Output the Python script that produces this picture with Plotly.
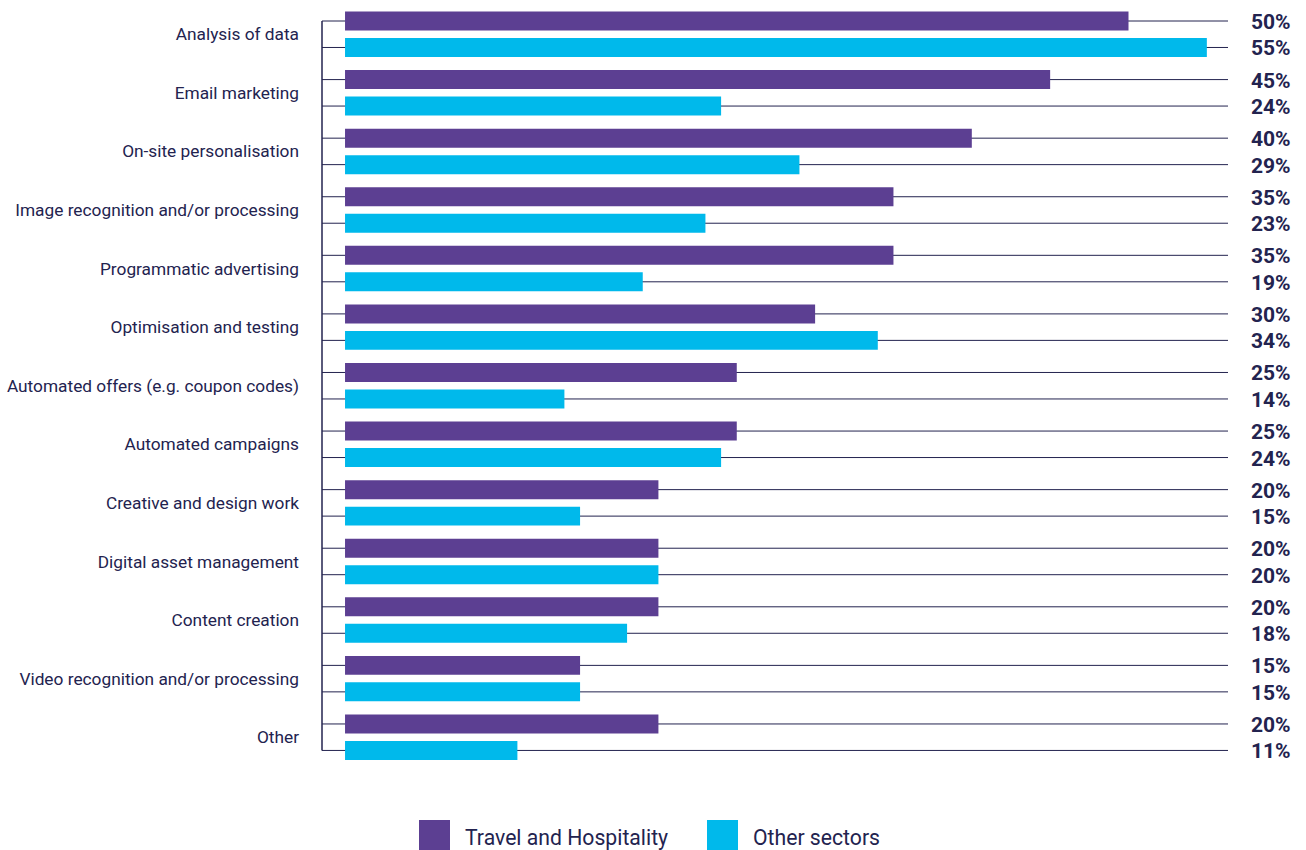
import plotly.graph_objects as go

categories = [
    "Analysis of data", "Email marketing", "On-site personalisation",
    "Image recognition and/or processing", "Programmatic advertising",
    "Optimisation and testing", "Automated offers (e.g. coupon codes)",
    "Automated campaigns", "Creative and design work", "Digital asset management",
    "Content creation", "Video recognition and/or processing", "Other",
]
travel = [50, 45, 40, 35, 35, 30, 25, 25, 20, 20, 20, 15, 20]
other = [55, 24, 29, 23, 19, 34, 14, 24, 15, 20, 18, 15, 11]
series_names = ["Travel and Hospitality", "Other sectors"]

PURPLE = "#5c3f92"
CYAN = "#00b9eb"
NAVY = "#23234f"
FONT = "Roboto"

W, H = 1306, 850
ML, MR, MT, MB = 322, 78, 0, 80
PW = W - ML - MR
PH = H - MT - MB

OFF = 0.226
BW = 0.324
idx = list(range(len(categories)))
y_tr = [i - OFF for i in idx]
y_ot = [i + OFF for i in idx]

fig = go.Figure()
fig.add_trace(go.Bar(x=travel, y=y_tr, orientation="h", width=BW,
                     marker=dict(color=PURPLE, line=dict(width=0)),
                     name=series_names[0], showlegend=False, hoverinfo="x"))
fig.add_trace(go.Bar(x=other, y=y_ot, orientation="h", width=BW,
                     marker=dict(color=CYAN, line=dict(width=0)),
                     name=series_names[1], showlegend=False, hoverinfo="x"))

shapes = []
annotations = []
for yv, val in list(zip(y_tr, travel)) + list(zip(y_ot, other)):
    shapes.append(dict(type="line", xref="paper", yref="y", x0=0, x1=1, y0=yv, y1=yv,
                       line=dict(color=NAVY, width=1), layer="below"))
    annotations.append(dict(xref="paper", yref="y", x=1, y=yv, xanchor="left",
                            yanchor="middle", xshift=21, yshift=-1, text=f"<b>{val}%</b>",
                            showarrow=False, font=dict(family=FONT, size=21, color=NAVY)))
shapes.append(dict(type="line", xref="paper", yref="y", x0=0, x1=0,
                   y0=y_tr[0], y1=y_ot[-1], line=dict(color=NAVY, width=1.5), layer="below"))

def px_x(p):
    return (p - ML) / PW

def px_y(p):
    return (H - MB - p) / PH

# custom legend
leg = [(419, 463, PURPLE, series_names[0]), (707, 751, CYAN, series_names[1])]
for sx, tx, col, name in leg:
    shapes.append(dict(type="rect", xref="paper", yref="paper",
                       x0=px_x(sx), x1=px_x(sx + 31), y0=px_y(850), y1=px_y(820),
                       fillcolor=col, line=dict(width=0)))
    annotations.append(dict(xref="paper", yref="paper", x=px_x(tx), y=px_y(837),
                            xanchor="left", yanchor="middle", text=name, showarrow=False,
                            font=dict(family=FONT, size=21.2, color=NAVY)))

r0 = -OFF - 21 / 58.58
r1 = r0 + PH / 58.58

fig.update_layout(
    width=W, height=H,
    margin=dict(l=ML, r=MR, t=MT, b=MB, pad=0),
    paper_bgcolor="white", plot_bgcolor="white",
    barmode="overlay",
    showlegend=False,
    shapes=shapes, annotations=annotations,
    xaxis=dict(range=[-1.47, 56.35], showticklabels=False, showgrid=False,
               zeroline=False, showline=False, fixedrange=True),
    yaxis=dict(range=[r1, r0], tickmode="array", tickvals=idx, ticktext=categories,
               showgrid=False, zeroline=False, showline=False, ticks="",
               ticklabelstandoff=22, fixedrange=True,
               tickfont=dict(family=FONT, size=17.3, color=NAVY)),
    font=dict(family=FONT, color=NAVY),
)

fig.write_html("out.html", config={"displayModeBar": False})
